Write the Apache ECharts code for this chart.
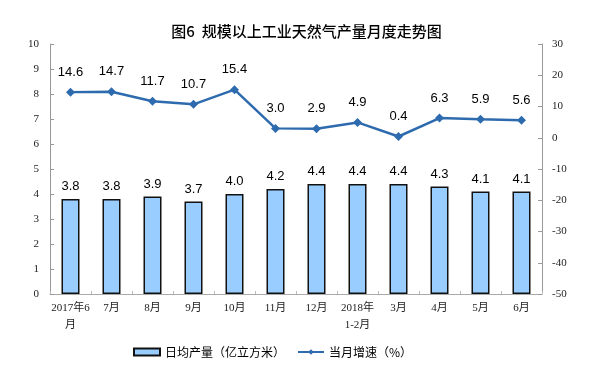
<!DOCTYPE html>
<html><head><meta charset="utf-8">
<script src="https://cdn.jsdelivr.net/npm/echarts@6/dist/echarts.min.js"></script>
<style>html,body{margin:0;padding:0;background:#fff}#c{width:613px;height:368px}</style>
</head><body><div id="c"></div>
<script>
const categories = ['2017年6\n月','7月','8月','9月','10月','11月','12月','2018年\n1-2月','3月','4月','5月','6月'];
const dailyOutput = [3.8, 3.8, 3.9, 3.7, 4.0, 4.2, 4.4, 4.4, 4.4, 4.3, 4.1, 4.1];
const growth = [14.6, 14.7, 11.7, 10.7, 15.4, 3.0, 2.9, 4.9, 0.4, 6.3, 5.9, 5.6];
const leftTicks = {min: 0, max: 10, interval: 1};
const rightTicks = {min: -50, max: 30, interval: 10};
const seriesNames = ['日均产量（亿立方米）', '当月增速（%）'];
const titleText = '图6  规模以上工业天然气产量月度走势图';

const chart = echarts.init(document.getElementById('c'));
const serif = '"Liberation Serif", "Noto Sans CJK SC", serif';
const sans = '"Liberation Sans", Arial, "Noto Sans CJK SC", sans-serif';
chart.setOption({
  animation: false,
  title: {text: titleText, left: 'center', top: 19,
    textStyle: {fontFamily: '"Noto Sans CJK SC", sans-serif', fontSize: 15, fontWeight: 500, color: '#000'}},
  legend: {left: 128, top: 341, itemGap: 12, itemWidth: 26, itemHeight: 7,
    textStyle: {fontFamily: '"Noto Sans CJK SC", sans-serif', fontSize: 12, color: '#000'},
    data: [{name: seriesNames[0], icon: 'rect'}, {name: seriesNames[1]}]},
  grid: {left: 50, right: 71, top: 44, bottom: 74},
  xAxis: {type: 'category', data: categories,
    axisLine: {lineStyle: {color: '#aaa'}},
    axisTick: {show: true, inside: true, length: 3, lineStyle: {color: '#bbb'}},
    axisLabel: {fontFamily: serif, fontSize: 11, color: '#222', interval: 0, margin: 6, lineHeight: 17}},
  yAxis: [
    {type: 'value', min: leftTicks.min, max: leftTicks.max, interval: leftTicks.interval, position: 'left',
      axisLine: {show: true, lineStyle: {color: '#999'}},
      axisTick: {show: true, inside: true, length: 4, lineStyle: {color: '#999'}},
      splitLine: {show: false},
      axisLabel: {fontFamily: serif, fontSize: 11, color: '#222', margin: 11}},
    {type: 'value', min: rightTicks.min, max: rightTicks.max, interval: rightTicks.interval, position: 'right',
      axisLine: {show: true, lineStyle: {color: '#999'}},
      axisTick: {show: true, inside: true, length: 4, lineStyle: {color: '#999'}},
      splitLine: {show: false},
      axisLabel: {fontFamily: serif, fontSize: 11, color: '#222', margin: 10}}
  ],
  series: [
    {name: seriesNames[0], type: 'bar', data: dailyOutput, barWidth: 18, yAxisIndex: 0,
      itemStyle: {color: '#99CCFF', borderColor: '#111', borderWidth: 1.5},
      label: {show: true, position: 'top', distance: 6, fontFamily: sans, fontSize: 13, color: '#000',
        formatter: p => p.value.toFixed(1)}},
    {name: seriesNames[1], type: 'line', data: growth, yAxisIndex: 1,
      symbol: 'diamond', symbolSize: 9, showAllSymbol: true,
      lineStyle: {color: '#2E6BAE', width: 2.5}, itemStyle: {color: '#2E6BAE'},
      label: {show: true, position: 'top', distance: 9, fontFamily: sans, fontSize: 13, color: '#000',
        formatter: p => p.value.toFixed(1)}}
  ]
});
</script></body></html>
